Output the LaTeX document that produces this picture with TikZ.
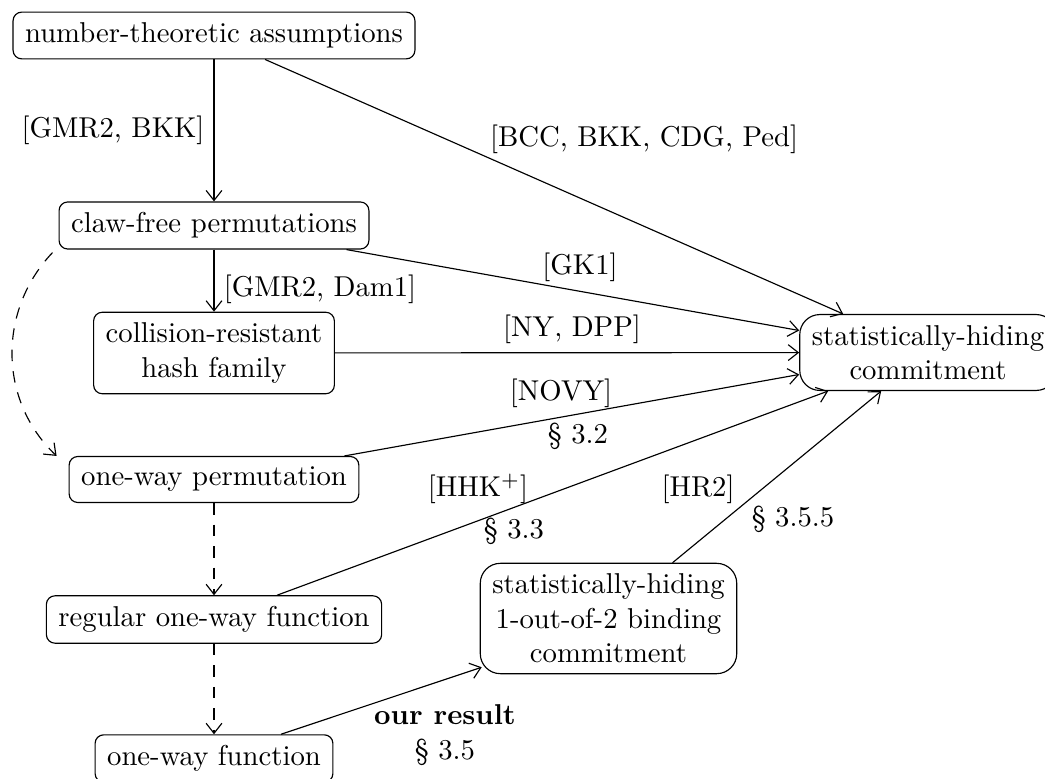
\documentclass[tikz,border=0pt]{standalone}
\usetikzlibrary{positioning, arrows.meta, calc}
\tikzset{
    box/.style = {draw, rounded corners=3pt, inner xsep=4.2pt, inner ysep=3.7pt, align=center},
    bigbox/.style = {box, rounded corners=7pt},
    lbl/.style = {inner sep=0pt, align=center},
}
\tikzset{
    imp/.style = {draw, -{Straight Barb[length=3.5pt, width=5.5pt]}},
    weak/.style = {imp, dash pattern=on 4pt off 3.5pt},
}

\begin{document}
\begin{tikzpicture}[x=0.3484pt, y=-0.3484pt]
            \useasboundingbox (0, 0) rectangle (1045, 779);

            \node[box] (assump) at (214, 35.5) {number-theoretic assumptions};
            \node[box] (clawfree) at (214, 225.5) {claw-free permutations};
            \node[box] (crhf) at (214, 353) {collision-resistant\\hash family};
            \node[box] (owp) at (214, 479.5) {one-way permutation};
            \node[box] (rowf) at (214, 619.5) {regular one-way function};
            \node[box] (owf) at (214, 758.5) {one-way function};

            \node[bigbox] (shc) at (928, 352.5) {statistically-hiding\\commitment};
            \node[bigbox] (shb) at (608.5, 618.5) {statistically-hiding\\1-out-of-2 binding\\commitment};

            \node[lbl] (gmr bkk) at (113, 130) {[GMR2, BKK]};
            \node[lbl] (bcc) at (644, 139) {[BCC, BKK, CDG, Ped]};
            \node[lbl] (gk) at (580, 267) {[GK1]};
            \node[lbl] (gmr dam) at (320, 289) {[GMR2, Dam1]};
            \node[lbl] (ny dpp) at (572, 329) {[NY, DPP]};
            \node[lbl] (novy) at (561, 393) {[NOVY]};
            \node[lbl] (sec32) at (578, 436) {\S~3.2};
            \node[lbl] (hhk) at (478, 489) {[HHK$^+$]};
            \node[lbl] (sec33) at (514, 531) {\S~3.3};
            \node[lbl] (hr) at (698, 489) {[HR2]};
            \node[lbl] (sec355) at (793, 519) {\S~3.5.5};
            \node[lbl] (ours) at (445, 735) {\textbf{our result}\\\S~3.5};

            \draw[imp] (assump) -- (clawfree);
            \draw[imp] (clawfree) -- (crhf);
            \draw[imp] (crhf) -- (shc);
            \draw[imp] ($(assump.south)+(51, 0)$) -- ($(shc.north west)+(44, 0)$);
            \draw[imp] ($(clawfree.south east)+(-23, 0)$) -- ($(shc.west)+(0, -22)$);
            \draw[imp] ($(owp.north east)+(-15, 0)$) -- ($(shc.west)+(0, 22)$);
            \draw[imp] ($(rowf.north)+(63, 0)$) -- ($(shc.south west)+(29, 0)$);
            \draw[imp] ($(shb.north)+(64, 0)$) -- ($(shc.south west)+(82, 0)$);
            \draw[imp] ($(owf.north)+(67, 0)$) -- ($(shb.south west)+(2, -7)$);

            \draw[weak] ($(clawfree.south west)+(-6, 3)$) .. controls (-2, 310) and (-2, 400) .. ($(owp.north west)+(-12, 0)$);
            \draw[weak] (owp) -- (rowf);
            \draw[weak] (rowf) -- (owf);
        \end{tikzpicture}
\end{document}
